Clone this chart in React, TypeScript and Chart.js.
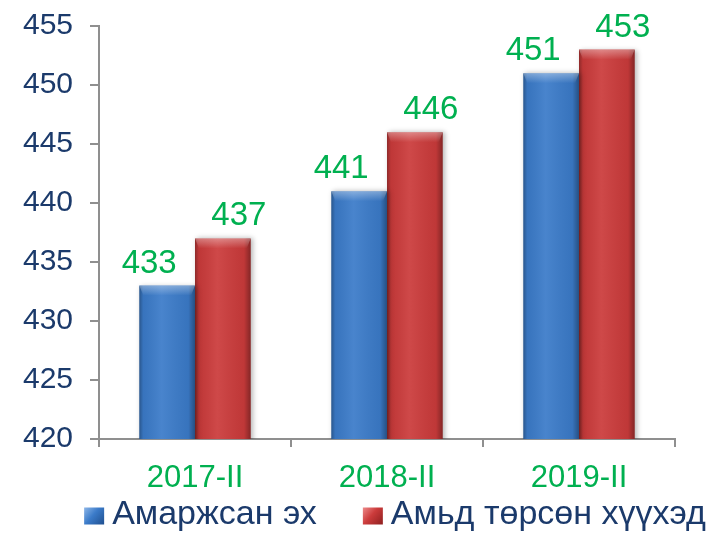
import { useEffect, useRef } from 'react';
import { Chart, registerables } from 'chart.js';

Chart.register(...registerables);

const categories = ['2017-II', '2018-II', '2019-II'];
const mothers = [433, 441, 451];
const births = [437, 446, 453];
const seriesNames = ['Амаржсан эх', 'Амьд төрсөн хүүхэд'];
const yTicks = [420, 425, 430, 435, 440, 445, 450, 455];

const FONT = '"Liberation Sans", Arial, sans-serif';
const NAVY = '#1B3A6B';
const GREEN = '#00B050';
const AXIS = '#8F8F8F';
const COLORS = ['#3B7BC9', '#CB3B3B'];
const LIGHT = ['#8DB6E8', '#EE8A8A'];
const DARK = ['#1F4F8F', '#8E1F1F'];
const LABEL_SHIFT = [-18, 16];

const barStyle = {
  id: 'barStyle',
  beforeDatasetsDraw(chart: any) {
    const ctx = chart.ctx;
    ctx.save();
    ctx.shadowColor = 'rgba(0,0,0,0.28)';
    ctx.shadowBlur = 5;
    ctx.shadowOffsetX = 2;
    ctx.shadowOffsetY = 0;
  },
  afterDatasetsDraw(chart: any) {
    const ctx = chart.ctx;
    ctx.restore();
    ctx.save();
    const bottom = chart.chartArea.bottom;
    chart.data.datasets.forEach((ds: any, di: number) => {
      const meta = chart.getDatasetMeta(di);
      meta.data.forEach((bar: any, i: number) => {
        const { x, y, base, width } = bar.getProps(['x', 'y', 'base', 'width'], true);
        const l = x - width / 2;
        const r = x + width / 2;
        const h = Math.min(base, bottom) - y;
        const g = ctx.createLinearGradient(l, 0, r, 0);
        g.addColorStop(0, 'rgba(0,0,0,0.30)');
        g.addColorStop(0.07, 'rgba(0,0,0,0.06)');
        g.addColorStop(0.4, 'rgba(255,255,255,0.07)');
        g.addColorStop(0.88, 'rgba(0,0,0,0.06)');
        g.addColorStop(1, 'rgba(0,0,0,0.35)');
        ctx.fillStyle = g;
        ctx.fillRect(l, y, width, h);
        const tg = ctx.createLinearGradient(0, y, 0, y + 10);
        tg.addColorStop(0, 'rgba(255,255,255,0.35)');
        tg.addColorStop(1, 'rgba(255,255,255,0)');
        ctx.fillStyle = tg;
        ctx.beginPath();
        ctx.moveTo(l, y);
        ctx.lineTo(r, y);
        ctx.lineTo(r - 4, y + 10);
        ctx.lineTo(l + 4, y + 10);
        ctx.closePath();
        ctx.fill();

        ctx.font = `33px ${FONT}`;
        ctx.fillStyle = GREEN;
        ctx.textAlign = 'center';
        ctx.textBaseline = 'alphabetic';
        ctx.fillText(String(ds.data[i]), x + LABEL_SHIFT[di], y - 13);
      });
    });
    ctx.restore();
  },
};

const legendPlugin = {
  id: 'bottomLegend',
  afterDraw(chart: any) {
    const ctx = chart.ctx;
    ctx.save();
    ctx.font = `34px ${FONT}`;
    const boxW = 20;
    const boxH = 17;
    const gapText = 8;
    const gapItems = 46;
    const widths = seriesNames.map((n) => ctx.measureText(n).width);
    const total = widths.reduce((a, w) => a + boxW + gapText + w, 0) + gapItems * (seriesNames.length - 1);
    const ca = chart.chartArea;
    let x = (ca.left + ca.right) / 2 + 8 - total / 2;
    const cy = chart.height - 18;
    seriesNames.forEach((n, i) => {
      const top = cy - boxH / 2 + 1;
      const gr = ctx.createLinearGradient(x, top, x + boxW, top + boxH);
      gr.addColorStop(0, LIGHT[i]);
      gr.addColorStop(0.45, COLORS[i]);
      gr.addColorStop(1, DARK[i]);
      ctx.fillStyle = gr;
      ctx.fillRect(x, top, boxW, boxH);
      x += boxW + gapText;
      ctx.fillStyle = NAVY;
      ctx.textAlign = 'left';
      ctx.textBaseline = 'middle';
      ctx.fillText(n, x, cy);
      x += widths[i] + gapItems;
    });
    ctx.restore();
  },
};

export default function App() {
  const ref = useRef<HTMLCanvasElement>(null);
  useEffect(() => {
    if (!ref.current) return;
    const chart = new Chart(ref.current, {
      type: 'bar',
      data: {
        labels: categories,
        datasets: [
          { label: seriesNames[0], data: mothers, backgroundColor: COLORS[0], borderWidth: 0 },
          { label: seriesNames[1], data: births, backgroundColor: COLORS[1], borderWidth: 0 },
        ],
      },
      options: {
        responsive: false,
        animation: false,
        datasets: { bar: { categoryPercentage: 0.58, barPercentage: 1 } },
        layout: { padding: { left: 0, right: 37, top: 26, bottom: 44 } },
        plugins: {
          tooltip: { enabled: false },
          legend: { display: false },
        },
        scales: {
          x: {
            afterFit: (s: any) => {
              s.height = 50;
              s.paddingLeft = 0;
              s.paddingRight = 0;
              s.paddingTop = 0;
              s.paddingBottom = 0;
            },
            grid: { display: true, drawOnChartArea: false, drawTicks: true, tickLength: 8, color: AXIS, lineWidth: 2, offset: true },
            border: { display: true, color: AXIS, width: 2 },
            ticks: { color: GREEN, font: { family: FONT, size: 31 }, padding: 13 },
          },
          y: {
            min: 420,
            max: 455,
            afterFit: (s: any) => {
              s.width = 99;
              s.paddingLeft = 0;
              s.paddingRight = 0;
              s.paddingTop = 0;
              s.paddingBottom = 0;
            },
            afterBuildTicks: (s: any) => { s.ticks = yTicks.map((v) => ({ value: v })); },
            grid: { display: true, drawOnChartArea: false, drawTicks: true, tickLength: 9, color: AXIS, lineWidth: 2 },
            border: { display: true, color: AXIS, width: 2 },
            ticks: { color: NAVY, font: { family: FONT, size: 30 }, padding: 17 },
          },
        },
      },
      plugins: [barStyle, legendPlugin],
    });
    return () => chart.destroy();
  }, []);
  return (
    <div style={{ position: 'fixed', left: 0, top: 0, width: 712, height: 533, background: '#fff' }}>
      <canvas ref={ref} width={712} height={533} />
    </div>
  );
}
